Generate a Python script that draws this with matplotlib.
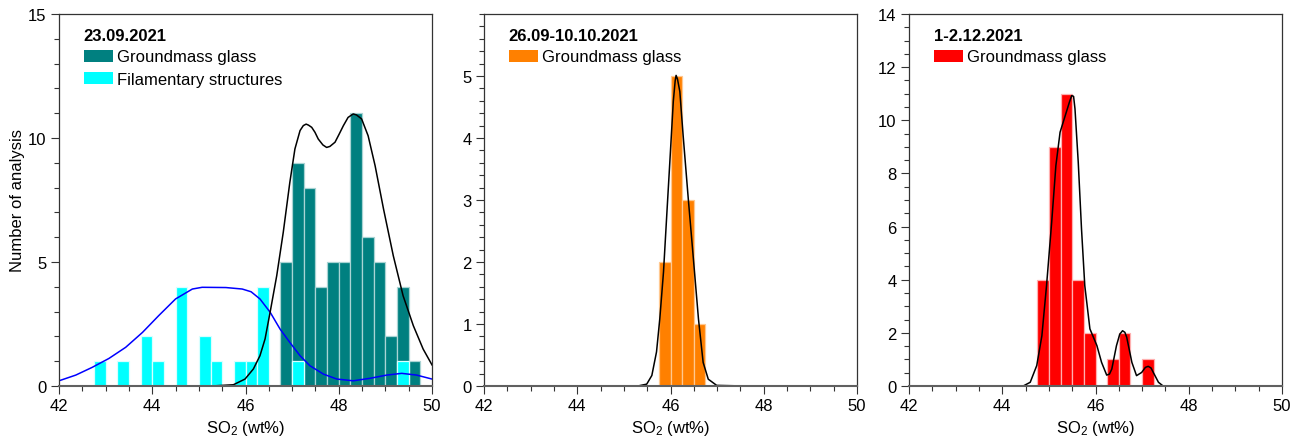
import matplotlib

matplotlib.use("Agg")
import matplotlib.pyplot as plt
from matplotlib.patches import Patch
from matplotlib.ticker import MultipleLocator

plt.rcParams["font.family"] = ["Liberation Sans", "DejaVu Sans"]
plt.rcParams["font.size"] = 12

BIN_WIDTH = 0.25

# 23.09.2021
gm1_left = [46.75, 47.0, 47.25, 47.5, 47.75, 48.0, 48.25, 48.5, 48.75, 49.0, 49.25, 49.5]
gm1_count = [5, 9, 8, 4, 5, 5, 11, 6, 5, 2, 4, 1]
fil1_left = [42.75, 43.25, 43.75, 44.0, 44.5, 45.0, 45.25, 45.75, 46.0, 46.25, 47.0, 49.25]
fil1_count = [1, 1, 2, 1, 4, 2, 1, 1, 1, 4, 1, 1]
gm1_curve_x = [45.27, 45.74, 45.99, 46.17, 46.31, 46.42, 46.54, 46.67, 46.81, 46.95, 47.06,
               47.17, 47.24, 47.30, 47.35, 47.42, 47.49, 47.56, 47.66, 47.74, 47.81, 47.92,
               48.01, 48.10, 48.20, 48.31, 48.38, 48.49, 48.63, 48.78, 48.96, 49.17, 49.38,
               49.60, 49.81, 50.0]
gm1_curve_y = [0.0, 0.05, 0.28, 0.69, 1.22, 1.9, 3.1, 4.45, 6.2, 8.2, 9.56,
               10.3, 10.5, 10.56, 10.52, 10.43, 10.23, 9.96, 9.72, 9.62, 9.66, 9.83,
               10.16, 10.5, 10.83, 10.97, 10.93, 10.77, 10.09, 8.88, 7.14, 5.25, 3.64,
               2.43, 1.49, 0.85]
fil1_curve_x = [42.0, 42.36, 42.71, 43.07, 43.43, 43.79, 44.14, 44.50, 44.86, 45.07, 45.58,
                45.93, 46.12, 46.31, 46.53, 46.74, 46.95, 47.17, 47.38, 47.67, 47.96, 48.31,
                48.67, 49.03, 49.35, 49.67, 50.0]
fil1_curve_y = [0.21, 0.44, 0.75, 1.11, 1.56, 2.16, 2.84, 3.51, 3.91, 3.98, 3.97,
                3.91, 3.8, 3.51, 2.97, 2.3, 1.76, 1.22, 0.82, 0.48, 0.28, 0.21,
                0.31, 0.44, 0.51, 0.44, 0.28]

# 26.09-10.10.2021
gm2_left = [45.75, 46.0, 46.25, 46.5]
gm2_count = [2, 5, 3, 1]
gm2_curve_x = [44.87, 45.30, 45.49, 45.60, 45.70, 45.77, 45.85, 45.92, 45.99, 46.06, 46.10,
               46.12, 46.15, 46.20, 46.27, 46.38, 46.49, 46.60, 46.70, 46.81, 46.99, 47.6]
gm2_curve_y = [0.0, 0.0, 0.03, 0.17, 0.55, 1.08, 1.84, 2.76, 3.67, 4.59, 4.92,
               5.01, 4.95, 4.75, 4.05, 3.03, 2.06, 1.08, 0.38, 0.11, 0.01, 0.0]

# 1-2.12.2021
gm3_left = [44.75, 45.0, 45.25, 45.5, 45.75, 46.25, 46.5, 47.0]
gm3_count = [4, 9, 11, 4, 2, 1, 2, 1]
gm3_curve_x = [44.45, 44.60, 44.74, 44.85, 44.95, 45.06, 45.15, 45.24, 45.35, 45.44, 45.49,
               45.53, 45.56, 45.63, 45.70, 45.77, 45.88, 46.03, 46.13, 46.24, 46.30, 46.35,
               46.45, 46.52, 46.58, 46.63, 46.67, 46.78, 46.88, 46.99, 47.07, 47.13, 47.19,
               47.24, 47.35, 47.45]
gm3_curve_y = [0.0, 0.14, 0.77, 1.89, 3.78, 6.16, 8.29, 9.55, 10.17, 10.68, 10.93,
               10.9, 10.43, 8.42, 5.91, 3.78, 2.15, 1.52, 0.89, 0.41, 0.45, 0.64,
               1.52, 1.95, 2.08, 2.02, 1.83, 0.89, 0.39, 0.51, 0.7, 0.74, 0.68,
               0.51, 0.14, 0.0]

XLABEL = r"$\mathregular{SO_2}$ (wt%)"

fig = plt.figure(figsize=(13.09, 4.39), dpi=100)
lefts = [59 / 1309, 484 / 1309, 909 / 1309]
axes = [fig.add_axes([l, 52 / 439, 373 / 1309, 372 / 439]) for l in lefts]


def style_axis(ax, ymax, yminor, yticks):
    ax.set_xlim(42, 50)
    ax.set_ylim(0, ymax)
    ax.xaxis.set_major_locator(MultipleLocator(2))
    ax.xaxis.set_minor_locator(MultipleLocator(0.5))
    ax.set_yticks(yticks)
    ax.yaxis.set_minor_locator(MultipleLocator(yminor))
    ax.tick_params(which="major", direction="out", length=5.5, width=0.8, color="#333333",
                   labelsize=12, pad=3.5)
    ax.tick_params(which="minor", direction="out", length=3.5, width=0.8, color="#333333")
    for side in ("left", "top", "right"):
        ax.spines[side].set_color("#333333")
        ax.spines[side].set_linewidth(0.9)
    ax.spines["bottom"].set_color("#606060")
    ax.spines["bottom"].set_linewidth(1.5)
    ax.set_xlabel(XLABEL, labelpad=3)


def add_legend(ax, title, labels, colors):
    handles = [Patch(facecolor=c, edgecolor="none") for c in colors]
    leg = ax.legend(handles, labels, title=title, loc="upper left",
                    bbox_to_anchor=(0.035, 0.995), frameon=False, alignment="left",
                    title_fontproperties={"weight": "bold", "size": 12},
                    handlelength=1.75, handleheight=0.72, handletextpad=0.25,
                    labelspacing=0.45, borderpad=0.2, fontsize=12)
    leg._legend_box.sep = 5


ax1, ax2, ax3 = axes

ax1.bar(gm1_left, gm1_count, width=BIN_WIDTH, align="edge", color="#008080",
        edgecolor="#a9d4d4", linewidth=0.9)
ax1.bar(fil1_left, fil1_count, width=BIN_WIDTH, align="edge", color="#00ffff",
        edgecolor="#d8ffff", linewidth=0.9)
ax1.plot(fil1_curve_x, fil1_curve_y, color="#0000ff", lw=1.1)
ax1.plot(gm1_curve_x, gm1_curve_y, color="black", lw=1.1)
style_axis(ax1, 15, 1, [0, 5, 10, 15])
ax1.set_ylabel("Number of analysis", labelpad=2)
add_legend(ax1, "23.09.2021", ["Groundmass glass", "Filamentary structures"],
           ["#008080", "#00ffff"])

ax2.bar(gm2_left, gm2_count, width=BIN_WIDTH, align="edge", color="#ff8000",
        edgecolor="#ffc890", linewidth=0.9)
ax2.plot(gm2_curve_x, gm2_curve_y, color="black", lw=1.1)
style_axis(ax2, 6, 0.2, [0, 1, 2, 3, 4, 5])
add_legend(ax2, "26.09-10.10.2021", ["Groundmass glass"], ["#ff8000"])

ax3.bar(gm3_left, gm3_count, width=BIN_WIDTH, align="edge", color="#ff0000",
        edgecolor="#ffb0b0", linewidth=0.9)
ax3.plot(gm3_curve_x, gm3_curve_y, color="black", lw=1.1)
style_axis(ax3, 14, 0.5, [0, 2, 4, 6, 8, 10, 12, 14])
add_legend(ax3, "1-2.12.2021", ["Groundmass glass"], ["#ff0000"])

fig.savefig("out.png", dpi=100)
